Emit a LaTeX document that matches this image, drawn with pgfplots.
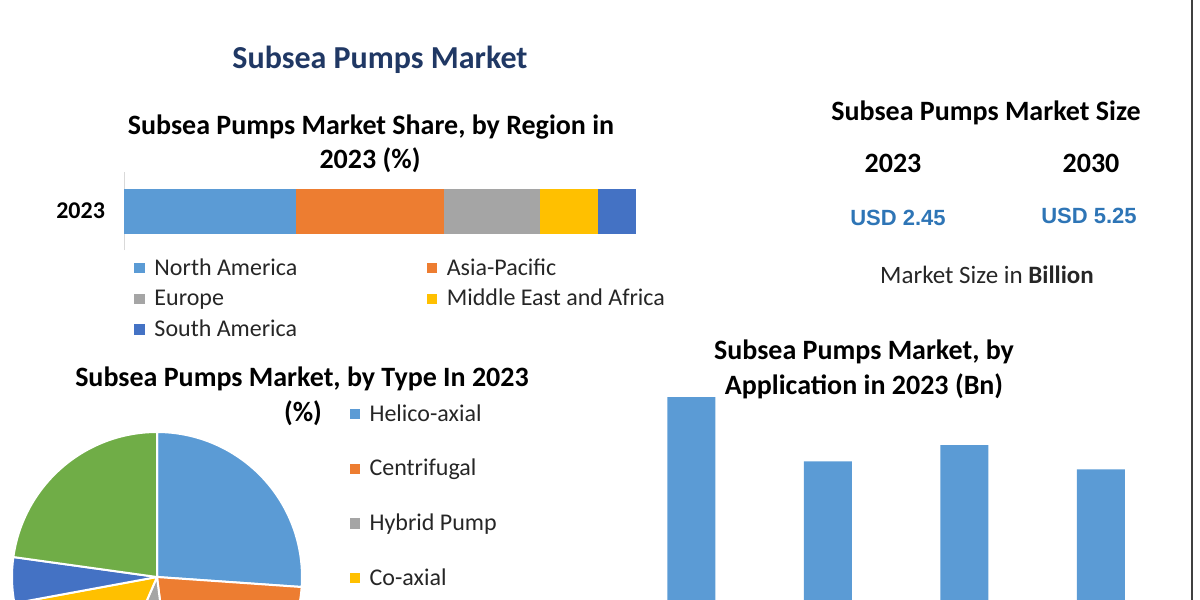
\documentclass[border=0pt]{standalone}
\usepackage{fontspec}
\setmainfont{Carlito}
\newfontfamily\arialfont{Liberation Sans}
\usepackage{pgfplots}
\pgfplotsset{compat=1.18}

\definecolor{cBlue}{HTML}{5B9BD5}
\definecolor{cOrange}{HTML}{ED7D31}
\definecolor{cGray}{HTML}{A5A5A5}
\definecolor{cYellow}{HTML}{FFC000}
\definecolor{cDark}{HTML}{4472C4}
\definecolor{cGreen}{HTML}{70AD47}
\definecolor{navy}{HTML}{203864}
\definecolor{usd}{HTML}{2E75B6}

% small square legend marker, as in Excel
\pgfplotsset{sq/.style={legend image code/.code={\fill[##1] (0pt,-2.6pt) rectangle (5.2pt,2.6pt); \path (8pt,0pt);}}}

\begin{document}
\begin{tikzpicture}
\path[use as bounding box] (0pt,0pt) rectangle (600pt,-300pt);
\clip (0pt,0pt) rectangle (600pt,-300pt);

% region share, stacked bar
\begin{axis}[
    at={(62pt,-125pt)}, anchor=south west,
    scale only axis, width=256pt, height=39pt,
    xbar stacked, bar width=22.5pt,
    xmin=0, xmax=100, ymin=-0.5, ymax=0.5,
    axis x line=none, axis y line*=left,
    y axis line style={-, black!15},
    ytick={0}, yticklabels={\textbf{2023}}, major tick length=0pt,
    yticklabel style={font=\fontsize{12}{14}\selectfont, xshift=-6pt},
    legend columns=2,
    legend style={draw=none, fill=none, at={(0.008,0.0)}, anchor=north west,
        font=\fontsize{12}{14}\selectfont, text=black!85, row sep=1.5pt,
        cells={anchor=west},
        /tikz/every even column/.append style={column sep=62.7pt}},
]
\addplot[fill=cBlue, draw=none, sq] coordinates {(33.6,0)};
\addplot[fill=cOrange, draw=none, sq] coordinates {(28.9,0)};
\addplot[fill=cGray, draw=none, sq] coordinates {(18.8,0)};
\addplot[fill=cYellow, draw=none, sq] coordinates {(11.3,0)};
\addplot[fill=cDark, draw=none, sq] coordinates {(7.4,0)};
\legend{North America, Asia-Pacific, Europe, Middle East and Africa, South America}
\end{axis}

% type share, pie
\begin{axis}[
    at={(78.5pt,-288.5pt)}, anchor=center,
    scale only axis, width=145pt, height=145pt,
    xmin=-1, xmax=1, ymin=-1, ymax=1,
    hide axis, clip=false,
    legend style={draw=none, fill=none, at={(1.142,1.124)}, anchor=north west,
        font=\fontsize{12}{14}\selectfont, text=black!85, row sep=13.5pt,
        cells={anchor=west}},
]
\addlegendimage{sq, fill=cBlue, draw=none}
\addlegendimage{sq, fill=cOrange, draw=none}
\addlegendimage{sq, fill=cGray, draw=none}
\addlegendimage{sq, fill=cYellow, draw=none}
\legend{Helico-axial, Centrifugal, Hybrid Pump, Co-axial}
\pgfplotsextra{
  \gdef\pieang{90}
  \foreach \p/\c in {26.1/cBlue, 21.9/cOrange, 8.5/cGray, 15.6/cYellow, 5.1/cDark, 22.8/cGreen}{
    \pgfmathsetmacro\pieend{\pieang-3.6*\p}
    \fill[\c, draw=white, line width=1pt] (axis cs:0,0) -- ++(\pieang:72.5pt)
        arc[start angle=\pieang, end angle=\pieend, radius=72.5pt] -- cycle;
    \xdef\pieang{\pieend}
  }
}
\end{axis}

% application, bars
\begin{axis}[
    at={(311.5pt,-345pt)}, anchor=south west,
    scale only axis, width=273pt, height=160.5pt,
    ybar, bar width=24pt,
    xmin=-0.5, xmax=3.5, ymin=0, ymax=0.8,
    hide axis,
]
\addplot[fill=cBlue, draw=none] coordinates {(0,0.73) (1,0.57) (2,0.61) (3,0.55)};
\end{axis}

\begin{scope}[x=0.5pt, y=-0.5pt]
\node[font=\fontsize{16}{19}\selectfont\bfseries, text=navy] at (380,60) {Subsea Pumps Market};
\node[font=\fontsize{14}{17}\selectfont\bfseries] at (371,127) {Subsea Pumps Market Share, by Region in};
\node[font=\fontsize{14}{17}\selectfont\bfseries] at (370,160) {2023 (\%)};

\node[font=\fontsize{14}{17}\selectfont\bfseries] at (986,113) {Subsea Pumps Market Size};
\node[font=\fontsize{14}{17}\selectfont\bfseries] at (893,163) {2023};
\node[font=\fontsize{14}{17}\selectfont\bfseries] at (1091,163) {2030};
\node[font=\arialfont\fontsize{11}{13}\selectfont\bfseries, text=usd] at (898,218) {USD 2.45};
\node[font=\arialfont\fontsize{11}{13}\selectfont\bfseries, text=usd] at (1089,216) {USD 5.25};
\node[font=\fontsize{12.5}{15}\selectfont, text=black!85] at (987,275) {Market Size in \textbf{Billion}};

\node[font=\fontsize{14}{17}\selectfont\bfseries] at (864,352) {Subsea Pumps Market, by};
\node[font=\fontsize{14}{17}\selectfont\bfseries] at (864,386) {Application in 2023 (Bn)};

\node[font=\fontsize{14}{17}\selectfont\bfseries] at (302,379) {Subsea Pumps Market, by Type In 2023};
\node[font=\fontsize{14}{17}\selectfont\bfseries] at (303,413) {(\%)};

\draw[line width=1pt, color=black!75] (1192,0) -- (1192,600);
\end{scope}
\end{tikzpicture}
\end{document}
